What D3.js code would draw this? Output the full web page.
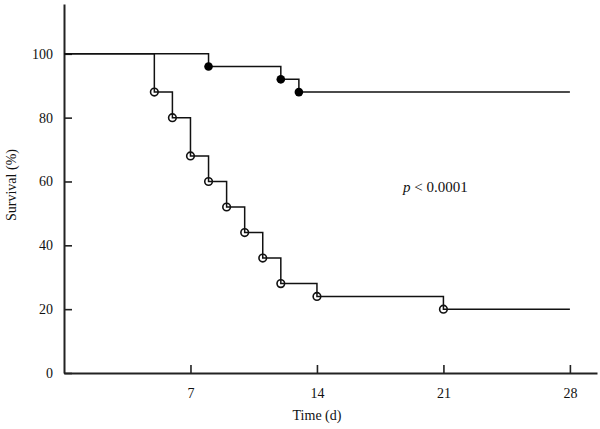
<!DOCTYPE html>
<html>
<head>
<meta charset="utf-8">
<script src="https://cdn.jsdelivr.net/npm/d3@7"></script>
<style>
  body { margin: 0; background: #fff; }
  svg text { font-family: "Liberation Serif", "Times New Roman", serif; fill: #111; }
</style>
</head>
<body>
<svg id="chart" width="600" height="429"></svg>
<script>
// survival data (%)
const treatedTimes = [8, 12, 13];
const treatedSurv = [96, 92, 88];
const controlTimes = [5, 6, 7, 8, 9, 10, 11, 12, 14, 21];
const controlSurv = [88, 80, 68, 60, 52, 44, 36, 28, 24, 20];
const endTime = 28;
const xTicks = [7, 14, 21, 28];
const yTicks = [0, 20, 40, 60, 80, 100];

const svg = d3.select("#chart");

const x = d3.scaleLinear().domain([0, 29.5]).range([64, 597]);
const y = d3.scaleLinear().domain([0, 115.6]).range([373, 4]);

// axes, ticks pointing inward
const xAxis = svg.append("g")
  .attr("transform", `translate(0,${y(0)})`)
  .call(d3.axisBottom(x).tickValues(xTicks).tickSizeInner(-8).tickSizeOuter(0).tickPadding(15));
const yAxis = svg.append("g")
  .attr("transform", `translate(${x(0)},0)`)
  .call(d3.axisLeft(y).tickValues(yTicks).tickSizeInner(-8).tickSizeOuter(0).tickPadding(11));

[xAxis, yAxis].forEach(a => {
  a.select(".domain").attr("stroke", "#222").attr("stroke-width", 2);
  a.selectAll(".tick line").attr("stroke", "#222").attr("stroke-width", 1.6);
  a.selectAll(".tick text").attr("font-size", 14).attr("fill", "#111")
    .attr("font-family", "'Liberation Serif', 'Times New Roman', serif");
});

function points(times, surv) {
  const p = [[0, 100]];
  times.forEach((t, i) => p.push([t, surv[i]]));
  p.push([endTime, surv[surv.length - 1]]);
  return p;
}

const line = d3.line()
  .x(d => x(d[0]))
  .y(d => y(d[1]))
  .curve(d3.curveStepAfter);

// control group: open circles (drawn under the line)
svg.append("g").selectAll("circle")
  .data(controlTimes.map((t, i) => [t, controlSurv[i]]))
  .join("circle")
  .attr("cx", d => x(d[0]))
  .attr("cy", d => y(d[1]))
  .attr("r", 3.8)
  .attr("fill", "#fff")
  .attr("stroke", "#111")
  .attr("stroke-width", 1.6);

svg.append("path")
  .datum(points(controlTimes, controlSurv))
  .attr("d", line)
  .attr("fill", "none")
  .attr("stroke", "#111")
  .attr("stroke-width", 1.5);

svg.append("path")
  .datum(points(treatedTimes, treatedSurv))
  .attr("d", line)
  .attr("fill", "none")
  .attr("stroke", "#111")
  .attr("stroke-width", 1.5);

// treated group: filled circles
svg.append("g").selectAll("circle")
  .data(treatedTimes.map((t, i) => [t, treatedSurv[i]]))
  .join("circle")
  .attr("cx", d => x(d[0]))
  .attr("cy", d => y(d[1]))
  .attr("r", 4.3)
  .attr("fill", "#000");

// labels
svg.append("text")
  .attr("x", 317).attr("y", 420)
  .attr("text-anchor", "middle")
  .attr("font-size", 14)
  .text("Time (d)");

svg.append("text")
  .attr("transform", "translate(16,185) rotate(-90)")
  .attr("text-anchor", "middle")
  .attr("font-size", 14)
  .text("Survival (%)");

const pText = svg.append("text")
  .attr("x", 403).attr("y", 192)
  .attr("font-size", 15);
pText.append("tspan").attr("font-style", "italic").text("p");
pText.append("tspan").text(" < 0.0001");
</script>
</body>
</html>
